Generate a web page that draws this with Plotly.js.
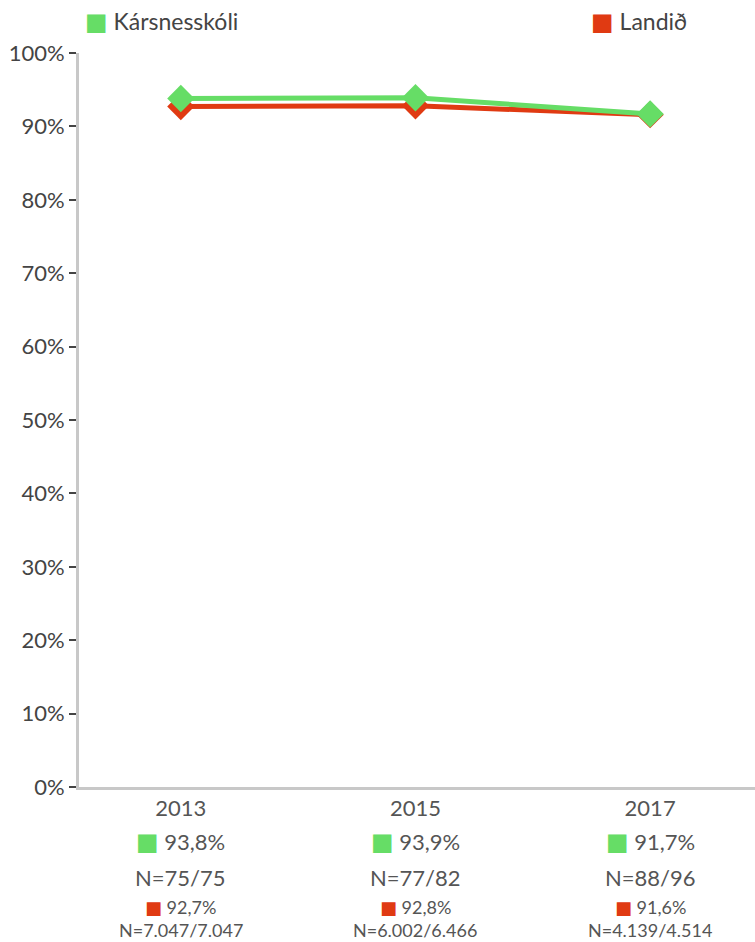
<!DOCTYPE html>
<html><head><meta charset="utf-8">
<script src="https://cdn.plot.ly/plotly-3.0.1.min.js"></script>
<style>body{margin:0;background:#fff}#c{width:755px;height:942px}</style>
</head><body><div id="c"></div>
<script>
const years = ['2013','2015','2017'];
const schoolName = 'Kársnesskóli';
const countryName = 'Landið';
const schoolVals = [0.938, 0.939, 0.917];
const countryVals = [0.927, 0.928, 0.916];
const schoolLabels = ['93,8%','93,9%','91,7%'];
const countryLabels = ['92,7%','92,8%','91,6%'];
const schoolN = ['N=75/75','N=77/82','N=88/96'];
const countryN = ['N=7.047/7.047','N=6.002/6.466','N=4.139/4.514'];
const green = '#66DD66', red = '#E03A12', txt = '#555555';
const xs = years.map((_, i) => i);
const FONT = 'Lato';
const sq = (color, size) => `<span style="color:${color};font-family:'DejaVu Sans';font-size:${size}px">■</span>`;

const traces = [
  {x: xs, y: countryVals, mode: 'lines+markers', showlegend: false, cliponaxis: false,
   line: {color: red, width: 5}, marker: {symbol: 'diamond', size: 21, color: red}},
  {x: xs, y: schoolVals, mode: 'lines+markers', showlegend: false, cliponaxis: false,
   line: {color: green, width: 5}, marker: {symbol: 'diamond', size: 21, color: green}},
];

const annotations = [];
years.forEach((y, i) => {
  annotations.push({x: i, y: 842,
    text: `${sq(green, 24)} ${schoolLabels[i]}`, font: {size: 22, color: txt, family: FONT}});
  annotations.push({x: i, y: 877,
    text: schoolN[i], font: {size: 22, color: txt, family: FONT}});
  annotations.push({x: i, y: 907,
    text: `${sq(red, 18)} ${countryLabels[i]}`, font: {size: 18, color: txt, family: FONT}});
  annotations.push({x: i, y: 930,
    text: countryN[i], font: {size: 18, color: txt, family: FONT}});
});
const H = 942, T = 53, B = 155, PH = H - T - B;
annotations.forEach(a => { a.xref = 'x'; a.yref = 'paper'; a.y = (H - B - a.y) / PH; a.yanchor = 'middle'; a.showarrow = false; });

annotations.push({xref: 'paper', yref: 'paper', x: (83 - 79) / 676, y: (H - B - 21) / PH, xanchor: 'left', yanchor: 'middle', showarrow: false,
  text: `${sq(green, 24)} ${schoolName}`, font: {size: 23, color: '#444', family: FONT}});
annotations.push({xref: 'paper', yref: 'paper', x: (589 - 79) / 676, y: (H - B - 21) / PH, xanchor: 'left', yanchor: 'middle', showarrow: false,
  text: `${sq(red, 24)} ${countryName}`, font: {size: 23, color: '#444', family: FONT}});

const layout = {
  width: 755, height: 942,
  margin: {l: 79, r: 0, t: T, b: B, pad: 0},
  paper_bgcolor: '#fff', plot_bgcolor: '#fff',
  showlegend: false,
  font: {family: FONT, color: txt},
  xaxis: {range: [-0.434, 2.447], tickvals: xs, ticktext: years, showgrid: false, zeroline: false,
    showline: true, linecolor: '#c8c8c8', linewidth: 3, ticks: '', tickfont: {size: 22, color: txt}},
  yaxis: {range: [0, 1], tickvals: [0,0.1,0.2,0.3,0.4,0.5,0.6,0.7,0.8,0.9,1], tickformat: '.0%',
    showgrid: false, zeroline: false, showline: true, linecolor: '#c8c8c8', linewidth: 3,
    ticks: 'outside', ticklen: 7, tickwidth: 1.5, tickcolor: '#444', tickfont: {size: 22, color: '#444'}},
  annotations: annotations,
};
Plotly.newPlot('c', traces, layout, {displayModeBar: false});
</script></body></html>
